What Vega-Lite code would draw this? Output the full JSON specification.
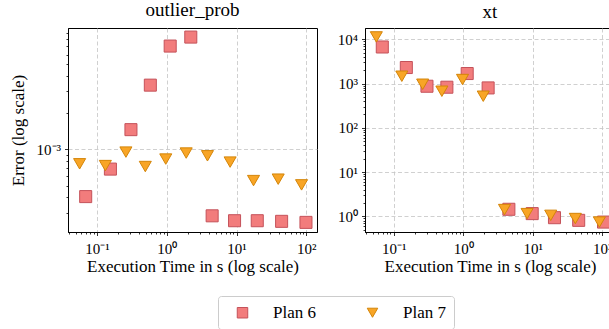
{
  "$schema": "https://vega.github.io/schema/vega-lite/v6.json",
  "autosize": {"type": "pad"},
  "padding": {"left": 8, "top": 0, "right": 0, "bottom": 0},
  "background": "white",
  "config": {
    "font": "Liberation Serif",
    "view": {"stroke": "black", "strokeWidth": 1},
    "title": {"fontSize": 19, "fontWeight": "normal", "font": "Liberation Serif", "color": "black", "offset": 6},
    "axis": {
      "domainColor": "black",
      "domainWidth": 1,
      "tickColor": "black",
      "tickWidth": 0.8,
      "labelFont": "Liberation Serif",
      "labelFontSize": 15,
      "labelColor": "black",
      "labelPadding": 4,
      "titleFont": "Liberation Serif",
      "titleFontSize": 17,
      "titleFontWeight": "normal",
      "titleColor": "black",
      "gridColor": "#c4c4c4",
      "gridDash": [4, 2.5],
      "gridWidth": 0.8
    },
    "legend": {
      "labelFont": "Liberation Serif",
      "labelFontSize": 17,
      "labelColor": "black"
    }
  },
  "data": {
    "values": [
      {"panel": "outlier_prob", "plan": "Plan 6", "time": 0.069, "error": 0.000406},
      {"panel": "outlier_prob", "plan": "Plan 6", "time": 0.156, "error": 0.000684},
      {"panel": "outlier_prob", "plan": "Plan 6", "time": 0.307, "error": 0.001445},
      {"panel": "outlier_prob", "plan": "Plan 6", "time": 0.582, "error": 0.00336},
      {"panel": "outlier_prob", "plan": "Plan 6", "time": 1.12, "error": 0.00705},
      {"panel": "outlier_prob", "plan": "Plan 6", "time": 2.21, "error": 0.00836},
      {"panel": "outlier_prob", "plan": "Plan 6", "time": 4.47, "error": 0.000282},
      {"panel": "outlier_prob", "plan": "Plan 6", "time": 9.36, "error": 0.000257},
      {"panel": "outlier_prob", "plan": "Plan 6", "time": 19.8, "error": 0.000257},
      {"panel": "outlier_prob", "plan": "Plan 6", "time": 44.2, "error": 0.000254},
      {"panel": "outlier_prob", "plan": "Plan 6", "time": 98.7, "error": 0.000249},
      {"panel": "xt", "plan": "Plan 6", "time": 0.0686, "error": 6700},
      {"panel": "xt", "plan": "Plan 6", "time": 0.152, "error": 2300},
      {"panel": "xt", "plan": "Plan 6", "time": 0.301, "error": 869},
      {"panel": "xt", "plan": "Plan 6", "time": 0.582, "error": 826},
      {"panel": "xt", "plan": "Plan 6", "time": 1.14, "error": 1683},
      {"panel": "xt", "plan": "Plan 6", "time": 2.28, "error": 796},
      {"panel": "xt", "plan": "Plan 6", "time": 4.53, "error": 1.44},
      {"panel": "xt", "plan": "Plan 6", "time": 9.8, "error": 1.15},
      {"panel": "xt", "plan": "Plan 6", "time": 20.5, "error": 0.93},
      {"panel": "xt", "plan": "Plan 6", "time": 45.7, "error": 0.81},
      {"panel": "xt", "plan": "Plan 6", "time": 104, "error": 0.74},
      {"panel": "outlier_prob", "plan": "Plan 7", "time": 0.0565, "error": 0.000756},
      {"panel": "outlier_prob", "plan": "Plan 7", "time": 0.132, "error": 0.000731},
      {"panel": "outlier_prob", "plan": "Plan 7", "time": 0.26, "error": 0.000944},
      {"panel": "outlier_prob", "plan": "Plan 7", "time": 0.493, "error": 0.000718},
      {"panel": "outlier_prob", "plan": "Plan 7", "time": 0.968, "error": 0.000827},
      {"panel": "outlier_prob", "plan": "Plan 7", "time": 1.9, "error": 0.000927},
      {"panel": "outlier_prob", "plan": "Plan 7", "time": 3.83, "error": 0.00088},
      {"panel": "outlier_prob", "plan": "Plan 7", "time": 8.09, "error": 0.000781},
      {"panel": "outlier_prob", "plan": "Plan 7", "time": 17.5, "error": 0.00055},
      {"panel": "outlier_prob", "plan": "Plan 7", "time": 39.5, "error": 0.000565},
      {"panel": "outlier_prob", "plan": "Plan 7", "time": 85.3, "error": 0.000507},
      {"panel": "xt", "plan": "Plan 7", "time": 0.0563, "error": 11300},
      {"panel": "xt", "plan": "Plan 7", "time": 0.131, "error": 1463},
      {"panel": "xt", "plan": "Plan 7", "time": 0.261, "error": 964},
      {"panel": "xt", "plan": "Plan 7", "time": 0.493, "error": 670},
      {"panel": "xt", "plan": "Plan 7", "time": 0.977, "error": 1232},
      {"panel": "xt", "plan": "Plan 7", "time": 1.94, "error": 517},
      {"panel": "xt", "plan": "Plan 7", "time": 3.92, "error": 1.42},
      {"panel": "xt", "plan": "Plan 7", "time": 8.28, "error": 1.15},
      {"panel": "xt", "plan": "Plan 7", "time": 18.1, "error": 1.05},
      {"panel": "xt", "plan": "Plan 7", "time": 40.9, "error": 0.89},
      {"panel": "xt", "plan": "Plan 7", "time": 90.6, "error": 0.74}
    ]
  },
  "spacing": 18,
  "hconcat": [
    {
      "title": "outlier_prob",
      "width": 249,
      "height": 204,
      "transform": [{"filter": "datum.panel === 'outlier_prob'"}],
      "mark": {"type": "point", "filled": true, "opacity": 1, "strokeWidth": 1, "size": 145},
      "encoding": {
        "x": {
          "field": "time", "type": "quantitative",
          "scale": {"type": "log", "domain": [0.0385, 142], "nice": false},
          "axis": {
            "title": "Execution Time in s (log scale)",
            "values": [0.04, 0.05, 0.06, 0.07, 0.08, 0.09, 0.1, 0.2, 0.3, 0.4, 0.5, 0.6, 0.7, 0.8, 0.9, 1, 2, 3, 4, 5, 6, 7, 8, 9, 10, 20, 30, 40, 50, 60, 70, 80, 90, 100],
            "labelExpr": "datum.value == 0.1 ? '10⁻¹' : datum.value == 1 ? '10⁰' : datum.value == 10 ? '10¹' : datum.value == 100 ? '10²' : ''",
            "tickSize": {"condition": {"test": "indexof([0.1, 1, 10, 100], datum.value) >= 0", "value": 3.5}, "value": 2},
            "gridOpacity": {"condition": {"test": "indexof([0.1, 1, 10, 100], datum.value) >= 0", "value": 1}, "value": 0},
            "labelFlush": false,
            "labelOverlap": false,
            "labelPadding": 6,
            "titlePadding": 2
          }
        },
        "y": {
          "field": "error", "type": "quantitative",
          "scale": {"type": "log", "domain": [0.0002075, 0.00993], "nice": false},
          "axis": {
            "title": "Error (log scale)",
            "values": [0.0003, 0.0004, 0.0005, 0.0006, 0.0007, 0.0008, 0.0009, 0.001, 0.002, 0.003, 0.004, 0.005, 0.006, 0.007, 0.008, 0.009],
            "labelExpr": "datum.value == 0.001 ? '10⁻³' : ''",
            "tickSize": {"condition": {"test": "datum.value == 0.001", "value": 3.5}, "value": 2},
            "gridOpacity": {"condition": {"test": "datum.value == 0.001", "value": 1}, "value": 0},
            "labelFlush": false,
            "labelOverlap": false,
            "titlePadding": 9
          }
        },
        "shape": {"field": "plan", "type": "nominal", "title": null, "scale": {"domain": ["Plan 6", "Plan 7"], "range": ["square", "triangle-down"]}, "legend": {"orient": "none", "legendX": 150, "legendY": 268, "direction": "horizontal", "strokeColor": "#cccccc", "cornerRadius": 3, "fillColor": "white", "padding": 8, "symbolSize": 110, "symbolOffset": 8, "labelOffset": 22, "columnPadding": 40, "symbolStrokeWidth": 1}},
        "fill": {"field": "plan", "type": "nominal", "title": null, "scale": {"domain": ["Plan 6", "Plan 7"], "range": ["#f27c7c", "#f8a526"]}},
        "stroke": {"field": "plan", "type": "nominal", "title": null, "scale": {"domain": ["Plan 6", "Plan 7"], "range": ["#c4525a", "#d48508"]}}
      }
    },
    {
      "title": "xt",
      "width": 250,
      "height": 204,
      "transform": [{"filter": "datum.panel === 'xt'"}],
      "mark": {"type": "point", "filled": true, "opacity": 1, "strokeWidth": 1, "size": 145},
      "encoding": {
        "x": {
          "field": "time", "type": "quantitative",
          "scale": {"type": "log", "domain": [0.0387, 152], "nice": false},
          "axis": {
            "title": "Execution Time in s (log scale)",
            "values": [0.04, 0.05, 0.06, 0.07, 0.08, 0.09, 0.1, 0.2, 0.3, 0.4, 0.5, 0.6, 0.7, 0.8, 0.9, 1, 2, 3, 4, 5, 6, 7, 8, 9, 10, 20, 30, 40, 50, 60, 70, 80, 90, 100],
            "labelExpr": "datum.value == 0.1 ? '10⁻¹' : datum.value == 1 ? '10⁰' : datum.value == 10 ? '10¹' : datum.value == 100 ? '10²' : ''",
            "tickSize": {"condition": {"test": "indexof([0.1, 1, 10, 100], datum.value) >= 0", "value": 3.5}, "value": 2},
            "gridOpacity": {"condition": {"test": "indexof([0.1, 1, 10, 100], datum.value) >= 0", "value": 1}, "value": 0},
            "labelFlush": false,
            "labelOverlap": false,
            "labelPadding": 6,
            "titlePadding": 2
          }
        },
        "y": {
          "field": "error", "type": "quantitative",
          "scale": {"type": "log", "domain": [0.4416, 17990], "nice": false},
          "axis": {
            "title": null,
            "values": [0.5, 0.6, 0.7, 0.8, 0.9, 1, 2, 3, 4, 5, 6, 7, 8, 9, 10, 20, 30, 40, 50, 60, 70, 80, 90, 100, 200, 300, 400, 500, 600, 700, 800, 900, 1000, 2000, 3000, 4000, 5000, 6000, 7000, 8000, 9000, 10000],
            "labelExpr": "datum.value == 1 ? '10⁰' : datum.value == 10 ? '10¹' : datum.value == 100 ? '10²' : datum.value == 1000 ? '10³' : datum.value == 10000 ? '10⁴' : ''",
            "tickSize": {"condition": {"test": "indexof([1, 10, 100, 1000, 10000], datum.value) >= 0", "value": 3.5}, "value": 2},
            "gridOpacity": {"condition": {"test": "indexof([1, 10, 100, 1000, 10000], datum.value) >= 0", "value": 1}, "value": 0},
            "labelFlush": false,
            "labelOverlap": false
          }
        },
        "shape": {"field": "plan", "type": "nominal", "title": null, "scale": {"domain": ["Plan 6", "Plan 7"], "range": ["square", "triangle-down"]}},
        "fill": {"field": "plan", "type": "nominal", "title": null, "scale": {"domain": ["Plan 6", "Plan 7"], "range": ["#f27c7c", "#f8a526"]}},
        "stroke": {"field": "plan", "type": "nominal", "title": null, "scale": {"domain": ["Plan 6", "Plan 7"], "range": ["#c4525a", "#d48508"]}}
      }
    }
  ]
}
